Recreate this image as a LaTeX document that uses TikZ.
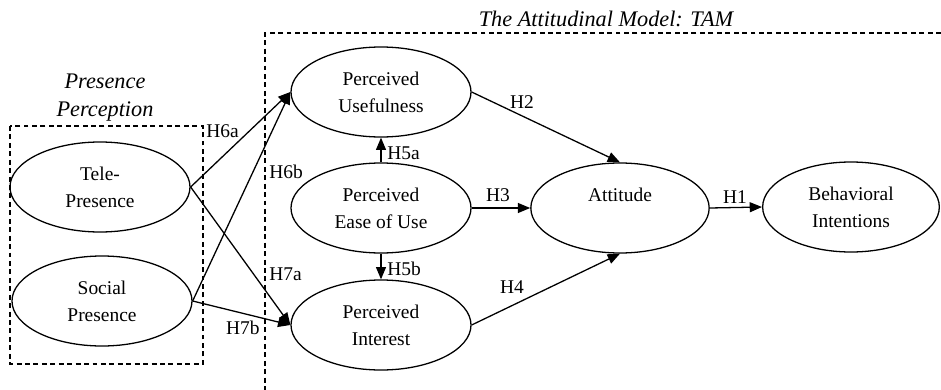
\documentclass[tikz,border=0pt]{standalone}
\usepackage{fontspec}
\setmainfont{Liberation Serif}
\usepackage{tikz}
\usetikzlibrary{shapes.geometric,arrows.meta,positioning}

\tikzset{
    construct/.style={ellipse, draw, line width=1.1pt, minimum width=5.4cm, minimum height=2.7cm, inner sep=0pt, align=center},
    path/.style={-{Triangle[length=10.5pt,width=8.5pt]}, line width=1.1pt},
    hyp/.style={inner sep=1pt},
    group/.style={line width=1.1pt, dash pattern=on 4.2pt off 3pt},
    grouptitle/.style={font=\fontsize{19}{24}\selectfont\itshape, align=center}
}

\begin{document}
\begin{tikzpicture}[x=0.03cm, y=-0.03cm, font=\fontsize{16.6}{23}\selectfont]
        \useasboundingbox (0,0) rectangle (941,390);

        % presence perception
        \draw[group] (10,126) rectangle (203,364);
        \node[grouptitle] (pptitle) at (105,98) {Presence\\Perception};
        \node[construct] (tele) at (100,187) {Tele-\\Presence};
        \node[construct] (social) at (102,301) {Social\\Presence};

        % attitudinal model
        \draw[group] (941,33) -- (265,33) -- (265,390);
        \node[grouptitle] (tamtitle) at (606,19) {The Attitudinal Model: TAM};
        \node[construct] (pu) at (381,92) {Perceived\\Usefulness};
        \node[construct] (peou) at (381,208) {Perceived\\Ease of Use};
        \node[construct] (pi) at (381,325) {Perceived\\Interest};
        \node[construct, minimum width=5.35cm] (att) at (620,208) {Attitude\\\phantom{A}};
        \node[construct, minimum width=5.3cm] (bi) at (851,207) {Behavioral\\Intentions};

        \draw[path] (tele.east) -- (pu.west);
        \draw[path] (social.east) -- (pu.west);
        \draw[path] (tele.east) -- (pi.west);
        \draw[path] (social.east) -- (pi.west);
        \draw[path] (peou.north) -- (pu.south);
        \draw[path] (peou.south) -- (pi.north);
        \draw[path] (pu.east) -- (att.north);
        \draw[path] (peou.east) -- (att.west);
        \draw[path] (pi.east) -- (att.south);
        \draw[path] (att.east) -- (bi.west);

        \node[hyp, anchor=west] (h6a) at (205,131) {H6a};
        \node[hyp, anchor=west] (h6b) at (268,172) {H6b};
        \node[hyp, anchor=west] (h7a) at (268,274) {H7a};
        \node[hyp, anchor=east] (h7b) at (261,328) {H7b};
        \node[hyp, anchor=west] (h5a) at (386,153) {H5a};
        \node[hyp, anchor=west] (h5b) at (386,269) {H5b};
        \node[hyp] (h2) at (522,102) {H2};
        \node[hyp] (h3) at (498,195) {H3};
        \node[hyp] (h4) at (512,287) {H4};
        \node[hyp] (h1) at (735,197) {H1};
    \end{tikzpicture}
\end{document}
